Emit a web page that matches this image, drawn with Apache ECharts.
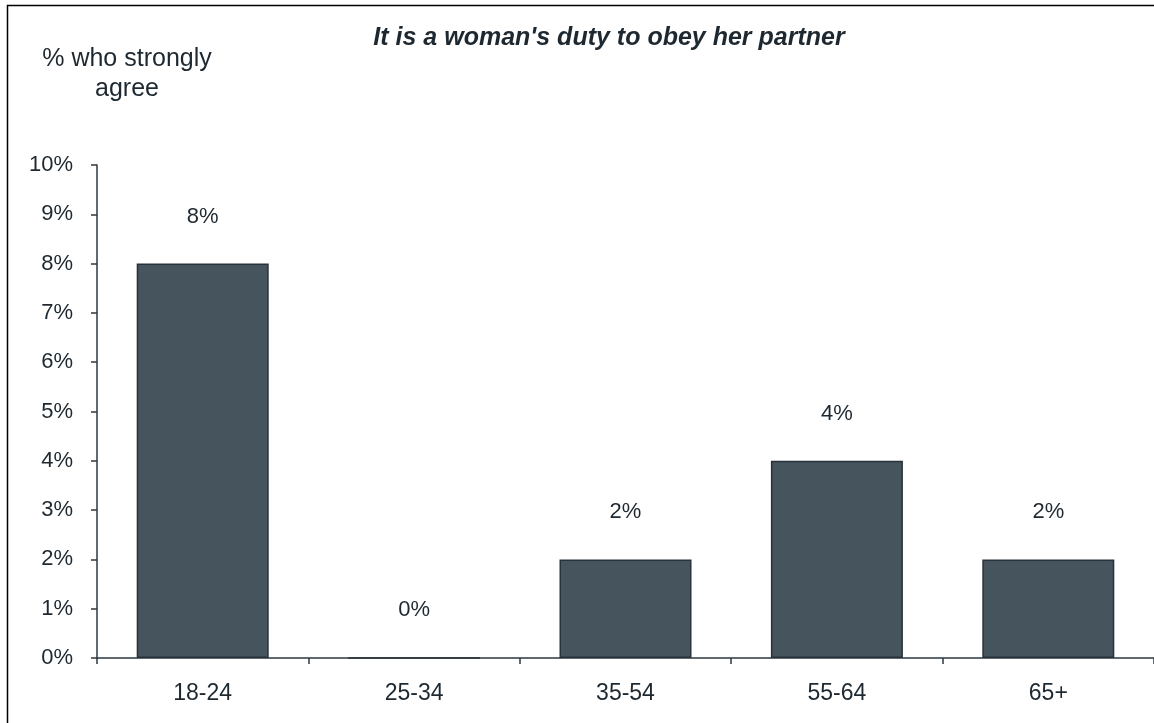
<!DOCTYPE html>
<html>
<head>
<meta charset="utf-8">
<script src="https://cdn.jsdelivr.net/npm/echarts@6/dist/echarts.min.js"></script>
<style>html,body{margin:0;padding:0;background:#fff}#c{width:1154px;height:723px}</style>
</head>
<body>
<div id="c"></div>
<script>
const categories = ['18-24', '25-34', '35-54', '55-64', '65+'];
const values = [8, 0, 2, 4, 2];
const yTicks = [0, 1, 2, 3, 4, 5, 6, 7, 8, 9, 10];
const titleText = "It is a woman's duty to obey her partner";
const yName = ['% who strongly', 'agree'];

const chart = echarts.init(document.getElementById('c'), null, {renderer: 'canvas'});
const font = 'Liberation Sans, Arial, sans-serif';
const textColor = '#1e2830';
chart.setOption({
  animation: false,
  backgroundColor: '#fff',
  title: {
    text: titleText,
    left: 604, top: 21, textAlign: 'center',
    textStyle: {fontFamily: font, fontSize: 25, fontWeight: 'bold', fontStyle: 'italic', color: textColor}
  },
  graphic: [
    {type: 'rect', shape: {x: 7.5, y: 5.5, width: 1200, height: 800}, style: {fill: null, stroke: '#000', lineWidth: 1.5}, silent: true},
    {type: 'text', x: 127, y: 59, style: {text: yName[0], fontFamily: font, fontSize: 25, fill: textColor, align: 'center', verticalAlign: 'middle'}},
    {type: 'text', x: 127, y: 89, style: {text: yName[1], fontFamily: font, fontSize: 25, fill: textColor, align: 'center', verticalAlign: 'middle'}}
  ],
  grid: {left: 97, top: 165, width: 1060, height: 493, containLabel: false},
  xAxis: {
    type: 'category',
    data: categories,
    boundaryGap: true,
    axisLine: {lineStyle: {color: '#2d3840', width: 1.5}},
    axisTick: {show: true, length: 6, inside: false, alignWithLabel: false, lineStyle: {color: '#2d3840', width: 1.5}},
    axisLabel: {fontFamily: font, fontSize: 23, color: textColor, margin: 24},
    splitLine: {show: false}
  },
  yAxis: {
    type: 'value',
    min: 0, max: 10, interval: 1,
    axisLine: {show: true, lineStyle: {color: '#2d3840', width: 1.5}},
    axisTick: {show: true, length: 6, lineStyle: {color: '#2d3840', width: 1.5}},
    axisLabel: {fontFamily: font, fontSize: 22, color: textColor, margin: 24, formatter: v => yTicks.includes(v) ? v + '%' : ''},
    splitLine: {show: false}
  },
  series: [{
    type: 'bar',
    data: values,
    barWidth: 132,
    itemStyle: {color: '#46545e', borderColor: '#27323a', borderWidth: 1.5},
    label: {show: true, position: 'top', distance: 36, formatter: p => p.value + '%', fontFamily: font, fontSize: 22, color: textColor}
  }]
});
</script>
</body>
</html>
